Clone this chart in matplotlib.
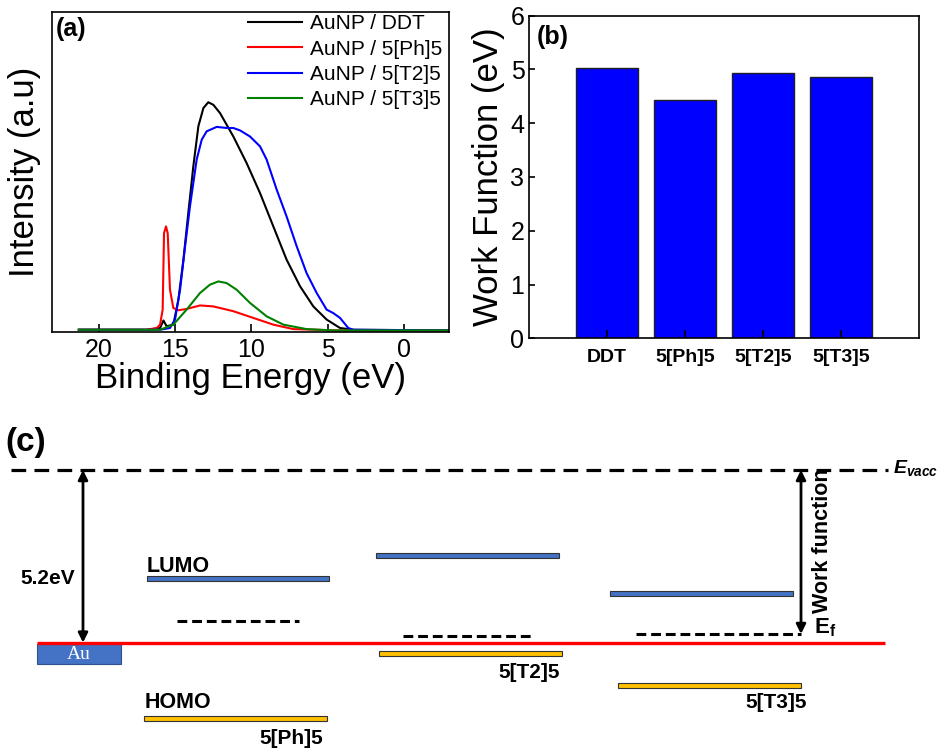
import numpy as np
import matplotlib
matplotlib.use("Agg")
import matplotlib.pyplot as plt

plt.rcParams['font.family'] = ['Liberation Sans', 'DejaVu Sans']
plt.rcParams['mathtext.fontset'] = 'custom'
plt.rcParams['mathtext.rm'] = 'Liberation Sans'
plt.rcParams['mathtext.it'] = 'Liberation Sans:italic:bold'
plt.rcParams['mathtext.bf'] = 'Liberation Sans:bold'

# ---- panel (a): spectra (binding energy eV, intensity a.u.)
ddt_be = [21.3, 16.86, 15.98, 15.76, 15.55, 15.11, 14.78, 14.45, 14.13, 13.80,
          13.47, 13.14, 12.82, 12.49, 12.05, 11.18, 10.31, 9.43, 8.56, 7.69,
          6.81, 5.94, 5.07, 4.19, 3.32, -2.95]
ddt_i = [0.007, 0.007, 0.0125, 0.036, 0.018, 0.023, 0.101, 0.226, 0.372, 0.518,
         0.643, 0.700, 0.718, 0.710, 0.684, 0.611, 0.528, 0.434, 0.330, 0.226,
         0.143, 0.080, 0.039, 0.0125, 0.007, 0.005]

ph_be = [21.3, 16.86, 16.20, 15.98, 15.81, 15.72, 15.59, 15.48, 15.33, 15.11,
         14.78, 14.24, 13.36, 12.49, 11.18, 9.87, 8.56, 7.25, 5.72, 4.63, -2.95]
ph_i = [0.007, 0.007, 0.0125, 0.023, 0.070, 0.309, 0.330, 0.309, 0.132, 0.075,
        0.068, 0.072, 0.083, 0.080, 0.065, 0.044, 0.023, 0.009, 0.007, 0.005, 0.005]

t2_be = [21.3, 15.98, 15.33, 15.00, 14.67, 14.34, 14.02, 13.58, 13.25, 12.93,
         12.27, 11.62, 11.18, 10.74, 10.09, 9.43, 9.00, 8.34, 7.69, 7.03,
         6.38, 5.72, 5.07, 4.63, 4.19, 3.65, 3.32, -2.95]
t2_i = [0.007, 0.007, 0.0125, 0.039, 0.132, 0.268, 0.393, 0.539, 0.601, 0.627,
        0.641, 0.6375, 0.6375, 0.630, 0.611, 0.580, 0.539, 0.445, 0.361, 0.268,
        0.184, 0.122, 0.070, 0.059, 0.044, 0.0125, 0.007, 0.005]

t3_be = [21.3, 15.98, 15.11, 14.24, 13.36, 12.71, 12.16, 11.62, 10.96, 10.09,
         9.00, 7.90, 6.38, 4.63, -2.95]
t3_i = [0.007, 0.007, 0.023, 0.070, 0.122, 0.148, 0.158, 0.153, 0.132, 0.091,
        0.049, 0.023, 0.009, 0.005, 0.005]

series_labels = ['AuNP / DDT', 'AuNP / 5[Ph]5', 'AuNP / 5[T2]5', 'AuNP / 5[T3]5']

# ---- panel (b): work function
samples = ['DDT', '5[Ph]5', '5[T2]5', '5[T3]5']
work_fn = [5.03, 4.43, 4.93, 4.86]

# ---- panel (c): energy levels (eV, vacuum = 0)
au_fermi = -5.2
lumo = [-3.28, -2.58, -3.73]
fermi = [-4.55, -4.99, -4.94]
homo = [-7.47, -5.54, -6.48]
mol_names = ['5[Ph]5', '5[T2]5', '5[T3]5']

W, H = 940, 751
fig = plt.figure(figsize=(9.4, 7.51), dpi=100)


def px_axes(x0, y0, x1, y1):
    return fig.add_axes([x0 / W, 1 - y1 / H, (x1 - x0) / W, (y1 - y0) / H])


# (a)
ax = px_axes(52, 12, 449, 332)
ax.plot(ddt_be, ddt_i, color='black', lw=1.5, label=series_labels[0])
ax.plot(ph_be, ph_i, color='#ff0000', lw=1.5, label=series_labels[1])
ax.plot(t2_be, t2_i, color='#0000ff', lw=1.5, label=series_labels[2])
ax.plot(t3_be, t3_i, color='#008000', lw=1.5, label=series_labels[3])
ax.set_xlim(23.06, -2.95)
ax.set_ylim(0, 1)
ax.set_xticks([20, 15, 10, 5, 0])
ax.set_yticks([])
ax.tick_params(axis='x', direction='in', length=6, width=1.2, labelsize=18, pad=4)
for s in ax.spines.values():
    s.set_linewidth(1.2)
ax.set_xlabel('Binding Energy (eV)', fontsize=25, labelpad=0)
ax.set_ylabel('Intensity (a.u)', fontsize=25, labelpad=8)
ax.legend(loc='upper right', frameon=False, fontsize=15, handlelength=2.6,
          handletextpad=0.4, labelspacing=0.3, borderaxespad=0.1,
          bbox_to_anchor=(1.01, 1.025))
ax.text(0.01, 0.985, '(a)', transform=ax.transAxes, fontsize=18,
        fontweight='bold', va='top', ha='left')

# (b)
bx = px_axes(529.3, 15.7, 919, 338.3)
pos = np.arange(1, len(samples) + 1)
bx.bar(pos, work_fn, width=0.8, color='#0000ff', edgecolor='#202020', lw=1.0)
bx.set_xlim(0, 5)
bx.set_ylim(0, 6)
bx.set_xticks(pos)
bx.set_xticklabels(samples, fontsize=14, fontweight='bold')
bx.set_yticks(range(7))
bx.tick_params(axis='y', direction='in', length=4, width=1.2, labelsize=18)
bx.tick_params(axis='x', direction='in', length=6, width=1.2, pad=8)
for s in bx.spines.values():
    s.set_linewidth(1.2)
bx.set_ylabel('Work Function (eV)', fontsize=25, labelpad=4)
bx.text(0.02, 0.97, '(b)', transform=bx.transAxes, fontsize=18,
        fontweight='bold', va='top', ha='left')

# (c) energy diagram, x in pixels, y in eV
cx = px_axes(0, 400, 940, 751)
px_per_ev = 33.2
cx.set_xlim(0, W)
cx.set_ylim(-(751 - 470) / px_per_ev, (470 - 400) / px_per_ev)
cx.axis('off')

lumo_x = [(147, 329), (376, 559), (610, 793)]
ef_x = [(177, 299), (403, 535), (636, 801)]
homo_x = [(144, 327), (379, 562), (618, 801)]
name_pos = [(323, 739), (560, 673), (807, 703)]


def y_ev(py):
    return -(py - 470) / px_per_ev


bar_h = 5 / px_per_ev
cx.hlines(0, 11, 888, colors='black', lw=2.3, linestyles=(0, (4.6, 2.6)))
cx.text(893, 0.05, r'$E_{vacc}$', fontsize=14, va='center', ha='left')
cx.hlines(au_fermi, 37, 885, colors='#ff0000', lw=2.4)
cx.barh(au_fermi - 0.35, 84, left=37, height=0.6, color='#4472c4',
        edgecolor='#2f528f', lw=0.8)
cx.text(79, au_fermi - 0.37, 'Au', family='Liberation Serif', color='white',
        fontsize=14, ha='center', va='center')
cx.annotate('', xy=(83, 0), xytext=(83, au_fermi),
            arrowprops=dict(arrowstyle='<|-|>', color='black', lw=2,
                            mutation_scale=14, shrinkA=0, shrinkB=0))
cx.text(20, y_ev(578), '5.2eV', fontsize=15, fontweight='bold', va='center')

for i in range(len(mol_names)):
    x0, x1 = lumo_x[i]
    cx.barh(lumo[i], x1 - x0, left=x0, height=bar_h, color='#4472c4',
            edgecolor='#333333', lw=0.8)
    x0, x1 = homo_x[i]
    cx.barh(homo[i], x1 - x0, left=x0, height=bar_h, color='#ffc000',
            edgecolor='#333333', lw=0.8)
    x0, x1 = ef_x[i]
    cx.hlines(fermi[i], x0, x1, colors='black', lw=2.2,
              linestyles=(0, (3.2, 1.6)))
    nx, ny = name_pos[i]
    cx.text(nx, y_ev(ny), mol_names[i], fontsize=15, fontweight='bold',
            ha='right', va='center')

cx.text(147, y_ev(566), 'LUMO', fontsize=15.5, fontweight='bold', va='center')
cx.text(145, y_ev(703), 'HOMO', fontsize=15.5, fontweight='bold', va='center')

cx.annotate('', xy=(801, 0), xytext=(801, fermi[2]),
            arrowprops=dict(arrowstyle='<|-|>', color='black', lw=2,
                            mutation_scale=14, shrinkA=0, shrinkB=0))
cx.text(822, y_ev(541), 'Work function', rotation=90, fontsize=15.5,
        fontweight='bold', ha='center', va='center')
cx.text(814, y_ev(628), r'$\mathbf{E}_\mathbf{f}$', fontsize=16,
        ha='left', va='center')
cx.text(5, y_ev(442), '(c)', fontsize=24, fontweight='bold', va='center')

fig.savefig('out.png', dpi=100)
